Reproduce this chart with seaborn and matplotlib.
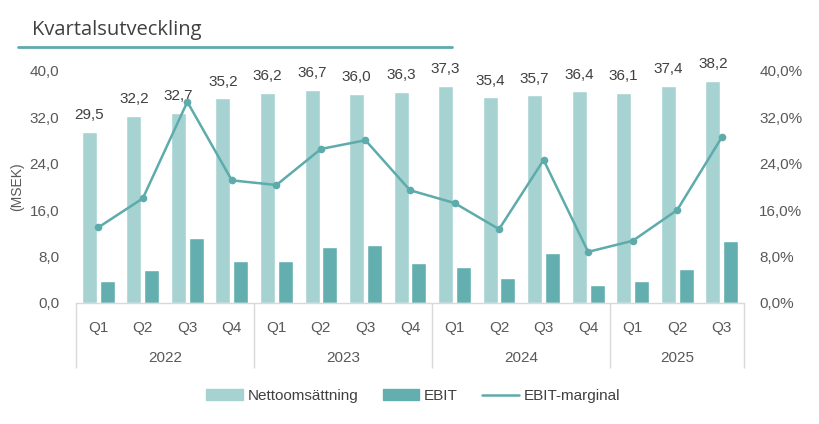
import numpy as np
import pandas as pd
import matplotlib
matplotlib.use("Agg")
import matplotlib.pyplot as plt
import matplotlib.transforms as mtransforms
from matplotlib.patches import Patch
from matplotlib.lines import Line2D
from matplotlib.ticker import FuncFormatter
import seaborn as sns

# ======================================
# DATA
# ======================================
kvartal = ["Q1", "Q2", "Q3", "Q4", "Q1", "Q2", "Q3", "Q4",
           "Q1", "Q2", "Q3", "Q4", "Q1", "Q2", "Q3"]
ar = ["2022", "2023", "2024", "2025"]
kvartal_per_ar = [4, 4, 4, 3]
nettoomsattning = [29.5, 32.2, 32.7, 35.2, 36.2, 36.7, 36.0, 36.3,
                   37.3, 35.4, 35.7, 36.4, 36.1, 37.4, 38.2]
ebit = [3.8, 5.6, 11.1, 7.2, 7.2, 9.6, 9.9, 6.9,
        6.2, 4.3, 8.6, 3.1, 3.7, 5.8, 10.7]
ebit_marginal = [13.0, 18.0, 34.6, 21.1, 20.3, 26.5, 28.0, 19.4,
                 17.2, 12.7, 24.6, 8.8, 10.7, 16.0, 28.5]

# ======================================
# STIL
# ======================================
LJUS = "#a6d2d2"
MORK = "#63afaf"
LINJE = "#5eabab"
TEXT = "#404040"
AXEL = "#595959"
GRID = "#d9d9d9"
FS = 11

sns.set_theme(style="white")
plt.rcParams["font.family"] = ["Liberation Sans", "DejaVu Sans"]

perioder = [f"{q}-{i}" for i, q in enumerate(kvartal)]
df = pd.DataFrame({
    "period": perioder * 2,
    "värde": nettoomsattning + ebit,
    "serie": ["Nettoomsättning"] * len(perioder) + ["EBIT"] * len(perioder),
})

fig = plt.figure(figsize=(8.2, 4.24), dpi=100)
ax = fig.add_axes([76 / 820, 1 - 303 / 424, (744 - 76) / 820, (303 - 70.5) / 424])

sns.barplot(data=df, x="period", y="värde", hue="serie", order=perioder,
            palette=[LJUS, MORK], width=0.8, gap=0.16, ax=ax,
            legend=False, saturation=1)

# etiketter över nettoomsättning
ax.bar_label(ax.containers[0], labels=[f"{v:.1f}".replace(".", ",") for v in nettoomsattning],
             padding=7, fontsize=FS, color=TEXT)

ax.set_ylim(0, 40)
ax.set_xlim(-0.5, len(perioder) - 0.5)
ax.set_yticks(np.arange(0, 41, 8))
ax.yaxis.set_major_formatter(FuncFormatter(lambda v, p: f"{v:.1f}".replace(".", ",")))
ax.tick_params(axis="y", length=0, labelsize=FS, labelcolor=AXEL, pad=12)
ax.set_ylabel("(MSEK)", fontsize=10, color=AXEL, labelpad=4)
ax.set_xlabel("")
ax.set_xticks(range(len(perioder)))
ax.set_xticklabels(kvartal, fontsize=FS, color=AXEL)
ax.tick_params(axis="x", length=0, pad=13)
for s in ["top", "left", "right"]:
    ax.spines[s].set_visible(False)
ax.spines["bottom"].set_color(GRID)
ax.spines["bottom"].set_linewidth(1)

# års-nivå under kvartalen
trans = mtransforms.blended_transform_factory(ax.transData, ax.transAxes)
grans = -0.5
ax.vlines(grans, -0.28, 0, transform=trans, color=GRID, lw=1, clip_on=False)
for namn, n in zip(ar, kvartal_per_ar):
    ax.text(grans + n / 2, -0.237, namn, transform=trans, ha="center", va="center",
            fontsize=FS, color=AXEL)
    grans += n
    ax.vlines(grans, -0.28, 0, transform=trans, color=GRID, lw=1, clip_on=False)

# EBIT-marginal på sekundäraxel
ax2 = ax.twinx()
sns.lineplot(x=np.arange(len(perioder)), y=ebit_marginal, ax=ax2, color=LINJE,
             lw=1.8, marker="o", markersize=5.5, markeredgewidth=0)
ax2.set_ylim(0, 40)
ax2.set_yticks(np.arange(0, 41, 8))
ax2.yaxis.set_major_formatter(FuncFormatter(lambda v, p: f"{v:.1f}%".replace(".", ",")))
ax2.tick_params(axis="y", length=0, labelsize=FS, labelcolor=AXEL, pad=11)
for s in ["top", "left", "right", "bottom"]:
    ax2.spines[s].set_visible(False)

# titel med understrykning
fig.text(32 / 820, 1 - 30 / 424, "Kvartalsutveckling", fontsize=14.5, color=TEXT,
         va="center", ha="left", family=["Open Sans", "DejaVu Sans"])
fig.add_artist(Line2D([18 / 820, 452 / 820], [1 - 46.5 / 424] * 2, color=LINJE,
                      lw=2, transform=fig.transFigure))

handles = [Patch(color=LJUS, label="Nettoomsättning"),
           Patch(color=MORK, label="EBIT"),
           Line2D([], [], color=LINJE, lw=1.8, label="EBIT-marginal")]
fig.legend(handles=handles, loc="center", bbox_to_anchor=(413 / 820, 1 - 396 / 424),
           ncol=3, frameon=False, fontsize=FS, labelcolor=TEXT,
           handlelength=2.4, handleheight=0.7, handletextpad=0.3, columnspacing=1.6)

fig.savefig("out.png", dpi=100)
